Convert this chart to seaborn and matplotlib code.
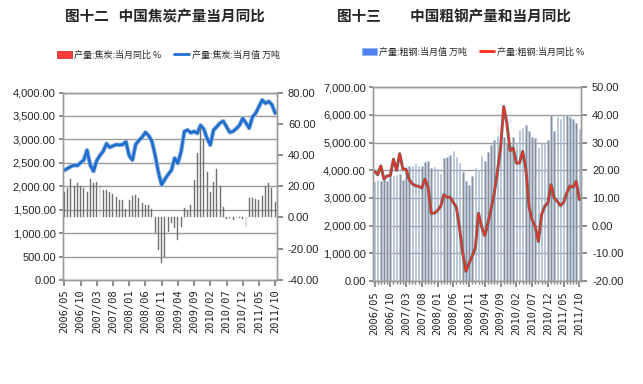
import numpy as np
import pandas as pd
import seaborn as sns
import matplotlib
matplotlib.use("Agg")
import matplotlib.pyplot as plt
from matplotlib.patches import Patch
from matplotlib.lines import Line2D
from matplotlib.font_manager import FontProperties
from matplotlib.ticker import FuncFormatter, MultipleLocator

# monthly categories 2006/05 .. 2011/10
months = pd.period_range("2006-05", "2011-10", freq="M").strftime("%Y/%m").tolist()

# coke: monthly output (10k t) and yoy (%)
coke_output = [2340, 2380, 2420, 2450, 2440, 2500, 2560, 2770, 2450, 2320,
               2550, 2660, 2750, 2910, 2830, 2860, 2890, 2880, 2890, 2950,
               2650, 2560, 2890, 2980, 3050, 3150, 3080, 2960, 2660, 2300,
               2030, 2150, 2250, 2340, 2600, 2490, 2740, 3170, 3200, 3140,
               3170, 3130, 3300, 3220, 3020, 2880, 3200, 3270, 3350, 3390,
               3270, 3150, 3170, 3230, 3300, 3450, 3350, 3240, 3480, 3560,
               3700, 3840, 3770, 3810, 3740, 3560]
coke_yoy = [16, 18.8, 24.6, 20.3, 22, 20.3, 18.8, 16, 24.6, 22,
            22.4, 21, 17.7, 17.7, 16, 15.2, 12.8, 11.3, 11.3, 5.3,
            10.9, 13.5, 14.5, 12.4, 9.2, 8.1, 8.1, 5.3, -10, -20.7,
            -29, -25, -9, -3.6, -7, -14.3, -5.8, 6, 4.9, 8.1,
            23.7, 41, 57, 50, 28.8, 16, 23, 31, 19.9, 6.6,
            -1, -0.5, -1.5, 0.5, -0.5, -1, -6.2, 12.4, 12.4, 12,
            11.5, 13.9, 19.9, 22, 18.8, 9.6]

# crude steel: monthly output (10k t) and yoy (%)
steel_output = [3560, 3660, 3600, 3700, 3620, 3750, 3780, 3820, 3850, 3650, 4050, 4160,
                4160, 4230, 4140, 4160, 4300, 4330, 4100, 4110, 4040, 3880, 4450, 4480,
                4560, 4680, 4480, 4280, 3950, 3600, 3480, 3780, 4100, 4000, 4520, 4350,
                4650, 4920, 5100, 5220, 5180, 5200, 5000, 4900, 5200, 5000, 5460, 5520,
                5640, 5400, 5200, 5160, 4800, 4980, 5000, 5100, 6000, 5400, 5920, 5850,
                6000, 6000, 5920, 5850, 5700, 5490]
steel_yoy = [19.6, 18.4, 21.6, 16.8, 18, 18, 24, 20, 26, 20.4,
             20.4, 16.6, 15.1, 14.4, 14.2, 13.6, 16.8, 13.9, 4.5, 4.5,
             5.5, 7, 11.2, 10.3, 10.3, 8.4, 6.5, -1, -10, -16.5,
             -13.5, -11, -8, 4.5, -0.5, -3.6, 1, 6, 11.8, 19.5,
             28, 43, 37, 27, 28, 22.6, 22.6, 26.8, 20.8, 7,
             2.1, -0.3, -5.7, 3.9, 7, 8.2, 14.8, 10, 8.8, 7.2,
             8.4, 11.8, 14.4, 13.9, 16, 9.4]

coke = pd.DataFrame({"pos": range(len(months)), "output": coke_output, "yoy": coke_yoy})
steel = pd.DataFrame({"pos": range(len(months)), "output": steel_output, "yoy": steel_yoy})

sns.set_theme(style="ticks")
plt.rcParams["font.family"] = ["Liberation Sans Narrow", "Liberation Sans", "DejaVu Sans"]
cjk = ["Noto Sans CJK SC", "DejaVu Sans"]
GRID = "#9a9a9a"

fig = plt.figure(figsize=(6.43, 3.84), dpi=100)


def style_axes(ax, axr, left_lim, left_step, right_lim, right_step, minor_x):
    ax.set_ylim(*left_lim)
    ax.yaxis.set_major_locator(MultipleLocator(left_step))
    ax.yaxis.set_major_formatter(FuncFormatter(lambda v, p: f"{v:,.2f}"))
    axr.set_ylim(*right_lim)
    axr.yaxis.set_major_locator(MultipleLocator(right_step))
    axr.yaxis.set_major_formatter(FuncFormatter(lambda v, p: f"{v:.2f}"))
    ax.set_xlim(-0.5, len(months) - 0.5)
    ax.set_xticks(range(0, len(months), 5))
    ax.set_xticklabels(months[::5], rotation=90, family="DejaVu Sans Mono",
                       fontsize=7.5, color="#222222")
    if minor_x:
        ax.set_xticks(range(len(months)), minor=True)
        ax.tick_params(axis="x", which="minor", length=2.5, color="#808080")
    ax.yaxis.grid(True, color=GRID, lw=1.0)
    ax.xaxis.grid(False)
    ax.set_axisbelow(True)
    for a in (ax, axr):
        a.set_xlabel("")
        a.set_ylabel("")
        for s in a.spines.values():
            s.set_color(GRID)
            s.set_linewidth(1.0)
    ax.tick_params(axis="y", labelsize=8, length=3, color="#808080", pad=2)
    axr.tick_params(axis="y", labelsize=8, length=4, color="#808080", pad=4)
    ax.tick_params(axis="x", length=4, color="#808080", pad=3)


# ---- left: coke ----
ax1 = fig.add_axes([0.0975, 0.271, 0.333, 0.488])
ax1r = ax1.twinx()
sns.barplot(data=coke, x="pos", y="yoy", ax=ax1r, color="#707070", width=0.3,
            edgecolor="#707070", linewidth=0.3, errorbar=None, saturation=1)
sns.lineplot(data=coke, x="pos", y="output", ax=ax1, color="#9ab8d8", lw=3.2)
sns.lineplot(data=coke, x="pos", y="output", ax=ax1, color="#1f6fd0", lw=2.0)
style_axes(ax1, ax1r, (0, 4000), 500, (-40, 80), 20, False)

# ---- right: crude steel ----
ax2 = fig.add_axes([0.580, 0.268, 0.3235, 0.505])
ax2r = ax2.twinx()
sns.barplot(data=steel, x="pos", y="output", ax=ax2, color="#8e8e8e", width=0.5,
            edgecolor="#b0cbee", linewidth=0.4, errorbar=None, saturation=1)
sns.lineplot(data=steel, x="pos", y="yoy", ax=ax2r, color="#6a6a6a", lw=2.2)
sns.lineplot(data=steel, x="pos", y="yoy", ax=ax2r, color="#ff2a1a", lw=1.0)
style_axes(ax2, ax2r, (0, 7000), 1000, (-20, 50), 10, True)

# ---- titles ----
title_fp = dict(family=cjk, fontsize=10.5, fontweight="bold", va="center", ha="left")
fig.text(0.101, 0.958, "图十二   中国焦炭产量当月同比", **title_fp)
fig.text(0.524, 0.958, "图十三\u3000\u3000中国粗钢产量和当月同比", **title_fp)

# ---- legends ----
leg_fp = FontProperties(family=cjk, size=6.5)
h_left = [Patch(facecolor="#ff3b3b", edgecolor="#c02020", lw=0.5),
          Line2D([], [], color="#1f6fd0", lw=2)]
fig.legend(h_left, ["产量:焦炭:当月同比 %", "产量:焦炭:当月值 万吨"], loc="center",
           bbox_to_anchor=(0.262, 0.857), ncol=2, frameon=False, prop=leg_fp,
           handlelength=1.6, handleheight=0.9, columnspacing=1.4, handletextpad=0.3)
h_right = [Patch(facecolor="#4f80f0", edgecolor="#8fb0f0", lw=0.5),
           Line2D([], [], color="#ff2a1a", lw=2)]
fig.legend(h_right, ["产量:粗钢:当月值 万吨", "产量:粗钢:当月同比 %"], loc="center",
           bbox_to_anchor=(0.736, 0.865), ncol=2, frameon=False, prop=leg_fp,
           handlelength=1.6, handleheight=0.9, columnspacing=1.4, handletextpad=0.3)

fig.savefig("out.png", dpi=100)
